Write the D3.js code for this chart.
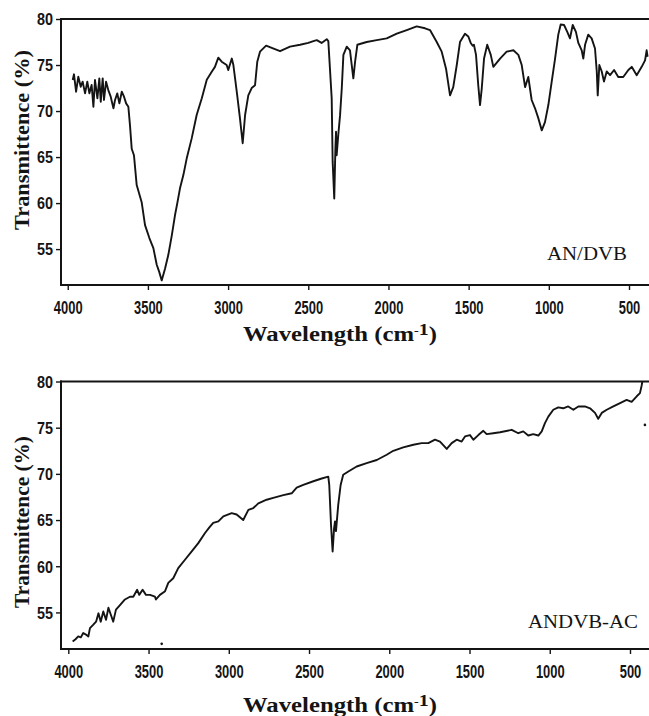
<!DOCTYPE html>
<html>
<head>
<meta charset="utf-8">
<script src="https://cdn.jsdelivr.net/npm/d3@7"></script>
<style>
  html, body { margin: 0; padding: 0; background: #fff; }
  svg { display: block; }
</style>
</head>
<body>
<script>
// FT-IR spectra of the AN/DVB copolymer and the activated carbon made from it.
const wavenumberTicks = [4000, 3500, 3000, 2500, 2000, 1500, 1000, 500];
const transmittanceTicks = [55, 60, 65, 70, 75, 80];
const sampleNames = ["AN/DVB", "ANDVB-AC"];

const anDvbWavenumber = [
  3969, 3961, 3948, 3934, 3919, 3907, 3892, 3878, 3865, 3851, 3840, 3830, 3815, 3803, 3794, 3782,
  3774, 3761, 3747, 3732, 3715, 3705, 3691, 3678, 3663, 3649, 3636, 3622, 3612, 3601, 3587, 3570,
  3539, 3518, 3491, 3466, 3445, 3429, 3414, 3393, 3373, 3351, 3331, 3317, 3300, 3279, 3258, 3227,
  3196, 3164, 3133, 3102, 3082, 3061, 3040, 3009, 2999, 2977, 2967, 2946, 2926, 2909, 2894, 2874,
  2853, 2832, 2818, 2801, 2763, 2720, 2676, 2614, 2551, 2500, 2468, 2447, 2417, 2385, 2375, 2354,
  2348, 2338, 2331, 2327, 2323, 2313, 2302, 2291, 2281, 2260, 2240, 2229, 2219, 2208, 2194, 2136,
  2073, 2011, 1948, 1886, 1824, 1772, 1741, 1699, 1668, 1641, 1616, 1596, 1574, 1554, 1523, 1502,
  1487, 1475, 1467, 1454, 1440, 1429, 1418, 1404, 1384, 1362, 1346, 1304, 1263, 1221, 1190, 1169,
  1148, 1128, 1107, 1086, 1065, 1044, 1024, 1003, 982, 961, 941, 926, 905, 885, 868, 851,
  831, 816, 795, 785, 774, 754, 733, 712, 701, 695, 685, 670, 656, 639, 618, 593,
  567, 536, 504, 483, 452, 421, 400, 390, 384
];
const anDvbTransmittance = [
  73.37, 73.99, 72.1, 73.73, 72.64, 73.19, 71.92, 73.19, 71.92, 72.83, 70.47, 73.37, 71.38, 73.55, 71.01, 73.55,
  71.2, 73.19, 72.28, 71.56, 70.29, 71.2, 71.92, 70.83, 72.1, 71.56, 70.83, 70.47, 68.5, 65.9, 65.2, 61.96,
  60.1, 57.6, 56.2, 55.1, 53.3, 52.5, 51.6, 52.9, 54.35, 56.5, 58.7, 59.97, 61.6, 63.04, 64.86, 67.03,
  69.57, 71.38, 73.4, 74.27, 74.8, 75.8, 75.36, 75.0, 74.46, 75.7, 75.0, 72.1, 69.2, 66.5, 69.57, 71.7,
  72.5, 72.8, 75.36, 76.45, 77.1, 76.8, 76.5, 77.0, 77.2, 77.4, 77.6, 77.7, 77.4, 77.8, 77.6, 71.4,
  64.5, 60.5, 65.9, 67.75, 65.2, 67.4, 69.5, 72.5, 76.1, 77.0, 76.6, 75.0, 73.55, 75.36, 77.2, 77.5,
  77.7, 77.9, 78.4, 78.8, 79.2, 78.99, 78.8, 77.5, 76.45, 74.6, 71.7, 72.6, 75.0, 77.5, 78.4, 78.1,
  77.4, 77.1, 77.2, 76.1, 72.8, 70.65, 72.5, 75.7, 77.2, 76.1, 74.8, 75.7, 76.45, 76.6, 76.1, 75.0,
  72.6, 73.7, 71.2, 70.3, 69.2, 67.9, 68.8, 70.65, 73.2, 75.7, 78.3, 79.4, 79.35, 78.6, 77.9, 79.35,
  78.6, 77.4, 76.6, 75.7, 77.2, 78.3, 77.9, 76.8, 74.3, 71.7, 75.0, 74.3, 73.2, 74.3, 73.9, 74.46,
  73.7, 73.7, 74.46, 74.8, 73.9, 74.8, 75.5, 76.6, 75.9
];

const andvbAcWavenumber = [
  3973, 3955, 3938, 3922, 3907, 3890, 3875, 3865, 3844, 3827, 3812, 3798, 3782, 3765, 3750, 3735,
  3720, 3703, 3678, 3647, 3616, 3595, 3571, 3558, 3537, 3516, 3491, 3460, 3454, 3429, 3397, 3377,
  3346, 3315, 3273, 3231, 3190, 3148, 3121, 3097, 3065, 3034, 2982, 2951, 2910, 2878, 2847, 2816,
  2764, 2723, 2660, 2608, 2577, 2536, 2473, 2421, 2380, 2374, 2363, 2353, 2344, 2338, 2332, 2318,
  2303, 2287, 2255, 2203, 2141, 2078, 2016, 1975, 1913, 1850, 1798, 1757, 1715, 1684, 1642, 1611,
  1580, 1549, 1528, 1497, 1476, 1445, 1414, 1393, 1352, 1310, 1237, 1196, 1165, 1134, 1103, 1071,
  1050, 1030, 1009, 978, 947, 916, 885, 853, 822, 781, 749, 718, 698, 676, 645, 604,
  562, 521, 490, 458, 438, 427, 423
];
const andvbAcTransmittance = [
  51.86, 52.1, 52.4, 52.3, 52.77, 52.6, 52.4, 53.3, 53.67, 54.0, 54.9, 54.0, 55.1, 54.2, 55.5, 54.75,
  54.0, 55.3, 55.8, 56.4, 56.7, 56.7, 57.45, 56.9, 57.45, 56.9, 56.9, 56.7, 56.4, 56.9, 57.3, 58.2,
  58.7, 59.8, 60.7, 61.6, 62.5, 63.6, 64.2, 64.7, 64.85, 65.4, 65.75, 65.6, 65.0, 66.1, 66.3, 66.8,
  67.2, 67.4, 67.7, 67.9, 68.5, 68.8, 69.2, 69.5, 69.7, 68.8, 64.5, 61.6, 64.1, 64.85, 63.8, 66.65,
  68.8, 69.9, 70.26, 70.8, 71.17, 71.5, 72.07, 72.5, 72.86, 73.15, 73.33, 73.33, 73.7, 73.5, 72.7, 73.33,
  73.7, 73.5, 74.05, 74.2, 73.7, 74.2, 74.66, 74.3, 74.4, 74.5, 74.77, 74.4, 74.6, 74.15, 74.3, 74.15,
  74.6, 75.5, 76.2, 76.94, 77.2, 77.1, 77.3, 76.94, 77.3, 77.3, 77.1, 76.6, 75.96, 76.6, 76.94, 77.3,
  77.66, 78.0, 77.8, 78.4, 78.74, 79.6, 80.0
];
// Two isolated specks recorded on the ANDVB-AC trace.
const andvbAcSpeckWavenumber = [3418, 407];
const andvbAcSpeckTransmittance = [51.6, 75.3];

const W = 649, H = 716;
const svg = d3.select("body").append("svg")
  .attr("width", W).attr("height", H)
  .style("background", "#fff");

const ink = "#141414";

const panels = [
  {
    name: sampleNames[0], wn: anDvbWavenumber, tr: anDvbTransmittance,
    specksWn: [], specksTr: [],
    left: 61, right: 649, top: 19, bottom: 285,
    xDomain: [4042, 375.3], yDomain: [51.1, 80],
    yTitle: { cx: 22, cy: 140, len: 180 },
    xTitle: { x0: 243, x1: 437, base: 341 },
    label: { x0: 547, x1: 627, base: 260 }
  },
  {
    name: sampleNames[1], wn: andvbAcWavenumber, tr: andvbAcTransmittance,
    specksWn: andvbAcSpeckWavenumber, specksTr: andvbAcSpeckTransmittance,
    left: 61, right: 649, top: 381.5, bottom: 649,
    xDomain: [4045.5, 381.6], yDomain: [51.04, 80],
    yTitle: { cx: 22, cy: 522, len: 172 },
    xTitle: { x0: 243, x1: 437, base: 712 },
    label: { x0: 528, x1: 638, base: 628 }
  }
];

// stretch a text node horizontally so it spans a given width
function stretchTo(textSel, target) {
  const w = textSel.node().getComputedTextLength();
  return w > 0 ? target / w : 1;
}

panels.forEach((p, i) => {
  const x = d3.scaleLinear().domain(p.xDomain).range([p.left, p.right]);
  const y = d3.scaleLinear().domain(p.yDomain).range([p.bottom, p.top]);
  const g = svg.append("g");

  const clipId = "plot-clip-" + i;
  svg.append("clipPath").attr("id", clipId)
    .append("rect")
    .attr("x", p.left).attr("y", p.top - 1)
    .attr("width", p.right - p.left).attr("height", p.bottom - p.top + 2);

  // spectrum trace
  const pts = p.wn.map((w, k) => [w, p.tr[k]]);
  g.append("path")
    .datum(pts)
    .attr("clip-path", `url(#${clipId})`)
    .attr("fill", "none")
    .attr("stroke", ink)
    .attr("stroke-width", 1.9)
    .attr("stroke-linejoin", "round")
    .attr("d", d3.line().x(d => x(d[0])).y(d => y(d[1])));

  g.selectAll("circle.speck")
    .data(p.specksWn.map((w, k) => [w, p.specksTr[k]]))
    .join("circle")
    .attr("class", "speck")
    .attr("cx", d => x(d[0])).attr("cy", d => y(d[1]))
    .attr("r", 1.3).attr("fill", ink);

  // bottom axis
  const xAxis = g.append("g")
    .attr("transform", `translate(0,${p.bottom})`)
    .call(d3.axisBottom(x).tickValues(wavenumberTicks).tickSize(5).tickFormat(d3.format("d")));
  xAxis.select(".domain").remove();
  xAxis.selectAll(".tick line").attr("stroke", ink).attr("stroke-width", 1.4);
  const xsx = 0.68;
  xAxis.selectAll(".tick text")
    .attr("fill", ink)
    .style("font-family", "'Liberation Sans', Arial, sans-serif")
    .style("font-weight", "bold")
    .style("font-size", "19px")
    .attr("y", 21.7).attr("dy", "0.36em")
    .attr("transform", `scale(${xsx},1)`);

  // left axis
  const yAxis = g.append("g")
    .attr("transform", `translate(${p.left},0)`)
    .call(d3.axisLeft(y).tickValues(transmittanceTicks).tickSize(5).tickFormat(d3.format("d")));
  yAxis.select(".domain").remove();
  yAxis.selectAll(".tick line").attr("stroke", ink).attr("stroke-width", 1.4);
  const ysx = 0.9;
  yAxis.selectAll(".tick text")
    .attr("fill", ink)
    .style("font-family", "'Liberation Sans', Arial, sans-serif")
    .style("font-weight", "bold")
    .style("font-size", "16px")
    .attr("x", -8 / ysx).attr("dy", "0.36em")
    .attr("transform", `scale(${ysx},1)`);

  // frame: left, top and bottom edges
  const frame = [
    [[p.left, p.top], [p.left, p.bottom]],
    [[p.left, p.top], [p.right, p.top]],
    [[p.left, p.bottom], [p.right, p.bottom]]
  ];
  g.selectAll("line.frame").data(frame).join("line")
    .attr("class", "frame")
    .attr("x1", d => d[0][0]).attr("y1", d => d[0][1])
    .attr("x2", d => d[1][0]).attr("y2", d => d[1][1])
    .attr("stroke", ink).attr("stroke-width", 2)
    .attr("stroke-linecap", "square");

  // y-axis title
  const yt = g.append("text")
    .text("Transmittence (%)")
    .attr("text-anchor", "middle")
    .attr("fill", ink)
    .style("font-family", "'Liberation Serif', 'Times New Roman', serif")
    .style("font-weight", "bold")
    .style("font-size", "21px");
  const ys = stretchTo(yt, p.yTitle.len);
  yt.attr("transform", `translate(${p.yTitle.cx + 7},${p.yTitle.cy}) rotate(-90) scale(${ys},1)`);

  // x-axis title with superscript
  const xt = g.append("text")
    .attr("fill", ink)
    .style("font-family", "'Liberation Serif', 'Times New Roman', serif")
    .style("font-weight", "bold")
    .style("font-size", "21px");
  xt.append("tspan").text("Wavelength (cm");
  xt.append("tspan").text("-").attr("dy", -6).style("font-size", "12px").style("font-weight", "normal");
  xt.append("tspan").text("1").style("font-size", "17px");
  xt.append("tspan").text(")").attr("dy", 6);
  const xs = stretchTo(xt, p.xTitle.x1 - p.xTitle.x0);
  xt.attr("transform", `translate(${p.xTitle.x0},${p.xTitle.base}) scale(${xs},1)`);

  // sample label
  const lb = g.append("text")
    .text(p.name)
    .attr("fill", ink)
    .style("font-family", "'Liberation Serif', 'Times New Roman', serif")
    .style("font-size", "19px");
  const ls = stretchTo(lb, p.label.x1 - p.label.x0);
  lb.attr("transform", `translate(${p.label.x0},${p.label.base}) scale(${ls},1)`);
});
</script>
</body>
</html>
